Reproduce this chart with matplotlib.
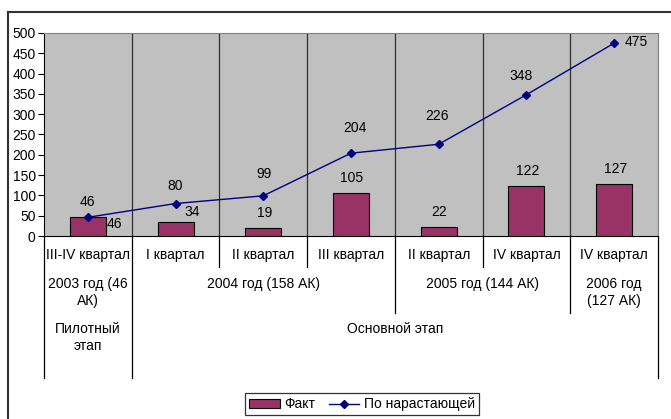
import matplotlib
matplotlib.use("Agg")

import matplotlib.pyplot  as plt
from matplotlib.lines     import Line2D
from matplotlib.patches   import Rectangle


OUT_PNG_PATH   = "out.png"

QUARTERS       = ["III-IV квартал", "I квартал", "II квартал", "III квартал",
                  "II квартал", "IV квартал", "IV квартал"]
FACT           = [46, 34, 19, 105, 22, 122, 127]
CUMULATIVE     = [46, 80, 99, 204, 226, 348, 475]

# Groupes de l'axe multi-niveaux : (premier indice, dernier indice, texte)
YEARS          = [(0, 0, "2003 год (46\nАК)"),
                  (1, 3, "2004 год (158 АК)"),
                  (4, 5, "2005 год (144 АК)"),
                  (6, 6, "2006 год\n(127 АК)")]
STAGES         = [(0, 0, "Пилотный\nэтап"),
                  (1, 6, "Основной этап")]

Y_TICKS        = list(range(0, 501, 50))

# Décalages des étiquettes (pixels, vers la droite / vers le haut)
FACT_OFFSETS   = [(27, -7), (17, 10), (1, 15), (1, 15), (0, 15), (1, 15), (1, 15)]
CUM_OFFSETS    = [(0, 15), (0, 18), (1, 22), (4, 25), (-2, 28), (-5, 19), (22, 1)]

BAR_COLOR      = "#993366"
LINE_COLOR     = "#000080"
BG_COLOR       = "#C0C0C0"

W, H           = 671, 419
PX_TO_PT       = 72 / 100


def fig_y(py):
  return 1 - py / H


def axes_y(py):
  # Conversion pixel -> fraction d'axe (0 a y=236, 500 a y=33)
  return (236 - py) / 203


def draw_multilevel_axis(ax):
  trans = ax.get_xaxis_transform()
  n     = len(QUARTERS)

  # Séparateurs : limites entre trimestres, années, étapes
  year_bounds  = [g[0] - 0.5 for g in YEARS[1:]]
  stage_bounds = [-0.5, n - 0.5] + [g[0] - 0.5 for g in STAGES[1:]]

  for i in range(n + 1):
    x = i - 0.5
    if x in stage_bounds:
      bottom = 378
    elif x in year_bounds:
      bottom = 313
    else:
      bottom = 267
    ax.plot([x, x], [0, axes_y(bottom)], transform=trans, color="black",
            linewidth=0.9, clip_on=False)

  for i, label in enumerate(QUARTERS):
    ax.text(i, axes_y(248), label, transform=trans, ha="center", va="top",
            fontsize=10)

  for first, last, label in YEARS:
    ax.text((first + last) / 2, axes_y(277), label, transform=trans,
            ha="center", va="top", fontsize=10, linespacing=1.25)

  for first, last, label in STAGES:
    ax.text((first + last) / 2, axes_y(322), label, transform=trans,
            ha="center", va="top", fontsize=10, linespacing=1.25)


def label_point(ax, x, y, offset):
  dx, dy = offset
  ax.annotate(str(y), (x, y), xytext=(dx * PX_TO_PT, dy * PX_TO_PT),
              textcoords="offset points", ha="center", va="center",
              fontsize=10, zorder=5)


def main():
  plt.rcParams["font.family"] = ["Liberation Sans", "DejaVu Sans"]

  fig = plt.figure(figsize=(W / 100, H / 100), dpi=100)
  ax  = fig.add_axes([44 / W, fig_y(236), (658 - 44) / W, (236 - 33) / H])

  x = list(range(len(QUARTERS)))

  ax.set_facecolor(BG_COLOR)
  ax.bar(x, FACT, width=0.41, color=BAR_COLOR, edgecolor="black",
         linewidth=0.8, zorder=3)
  ax.plot(x, CUMULATIVE, color=LINE_COLOR, linewidth=1, marker="D",
          markersize=4.5, zorder=4)

  # Étiquettes des valeurs
  for i in x:
    label_point(ax, i, FACT[i], FACT_OFFSETS[i])
    label_point(ax, i, CUMULATIVE[i], CUM_OFFSETS[i])

  ax.set_xlim(-0.5, len(x) - 0.5)
  ax.set_ylim(0, 500)
  ax.set_yticks(Y_TICKS)
  ax.tick_params(axis="y", direction="out", length=4, labelsize=10, pad=2)
  ax.set_xticks([])

  # Lignes verticales entre catégories
  for i in range(1, len(x)):
    ax.axvline(i - 0.5, color="#303030", linewidth=0.9, zorder=1)

  for side in ["top", "right"]:
    ax.spines[side].set_color("#808080")
  ax.spines["left"].set_color("black")
  ax.spines["bottom"].set_color("black")

  draw_multilevel_axis(ax)

  # Cadre du graphique
  fig.add_artist(Line2D([8 / W, 8 / W], [0, fig_y(12)], color="#333333",
                        linewidth=1.5))
  fig.add_artist(Line2D([8 / W, 1], [fig_y(12), fig_y(12)], color="#333333",
                        linewidth=1.5))

  handles = [
    Rectangle((0, 0), 1, 1, facecolor=BAR_COLOR, edgecolor="black",
              linewidth=0.8),
    Line2D([], [], color=LINE_COLOR, linewidth=1, marker="D", markersize=4)]
  legend = fig.legend(handles, ["Факт", "По нарастающей"], ncol=2,
                      loc="upper left", bbox_to_anchor=(245 / W, fig_y(393)),
                      borderaxespad=0, fontsize=10, frameon=True,
                      fancybox=False, edgecolor="black", borderpad=0.3,
                      handlelength=2.2, handletextpad=0.3, columnspacing=1.0,
                      handleheight=0.6)
  legend.get_frame().set_linewidth(0.9)

  fig.savefig(OUT_PNG_PATH, dpi=100)
  plt.close(fig)


if __name__ == "__main__":
  main()
